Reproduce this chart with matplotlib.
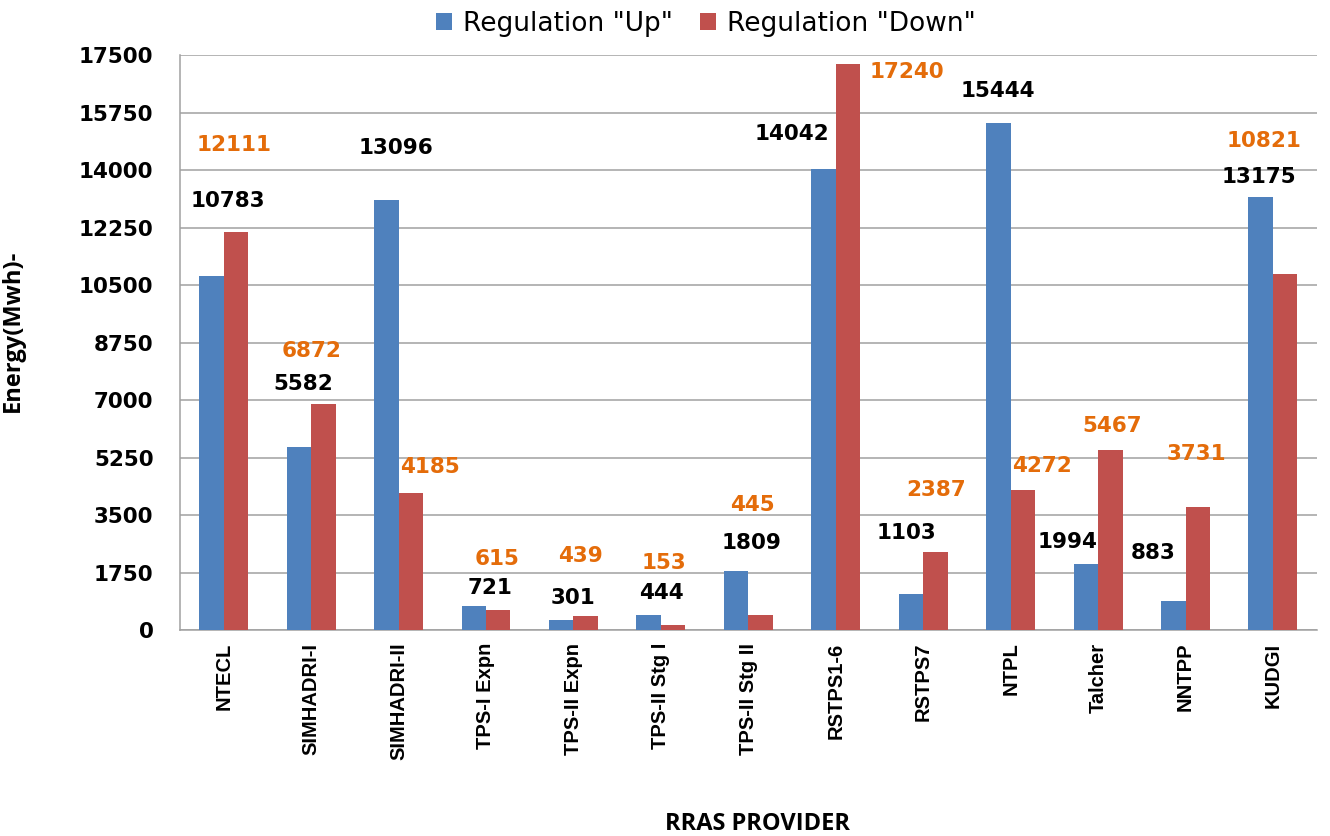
import numpy as np
import matplotlib
matplotlib.use("Agg")
import matplotlib.pyplot as plt

# RRAS providers and regulated energy (MWh)
providers = ["NTECL", "SIMHADRI-I", "SIMHADRI-II", "TPS-I Expn", "TPS-II Expn",
             "TPS-II Stg I", "TPS-II Stg II", "RSTPS1-6", "RSTPS7", "NTPL",
             "Talcher", "NNTPP", "KUDGI"]
reg_up = [10783, 5582, 13096, 721, 301, 444, 1809, 14042, 1103, 15444, 1994, 883, 13175]
reg_down = [12111, 6872, 4185, 615, 439, 153, 445, 17240, 2387, 4272, 5467, 3731, 10821]
yticks = [0, 1750, 3500, 5250, 7000, 8750, 10500, 12250, 14000, 15750, 17500]

# where the data labels sit (shift from group centre, height in MWh)
up_lab_dx = [0.05, -0.09, -0.03, 0.05, 0.0, 0.0, 0.04, -0.50, -0.19, -0.15, -0.35, -0.37, -0.16]
up_lab_y = [13050, 7500, 14665, 1280, 976, 1128, 2652, 15090, 2957, 16400, 2683, 2348, 13780]
down_lab_dx = [0.12, 0.01, 0.36, 0.13, 0.08, 0.04, 0.05, 0.81, 0.15, 0.36, 0.16, 0.12, -0.10]
down_lab_y = [14756, 8506, 4970, 2165, 2256, 2043, 3811, 16982, 4268, 5000, 6220, 5366, 14878]

blue = "#4F81BD"
red = "#C0504D"
orange = "#E46C0A"
grey = "#A0A0A0"

fig = plt.figure(figsize=(13.3, 8.36), dpi=100)
ax = fig.add_axes([0.1353, 0.2464, 0.8547, 0.6878])

x = np.arange(len(providers))
w = 0.28
ax.bar(x - w / 2, reg_up, w, color=blue, label='Regulation "Up"', zorder=3)
ax.bar(x + w / 2, reg_down, w, color=red, label='Regulation "Down"', zorder=3)

for i in range(len(providers)):
    ax.text(x[i] + up_lab_dx[i], up_lab_y[i], str(reg_up[i]), ha="center", va="center",
            fontsize=15.5, fontweight="bold", color="black", family="DejaVu Sans")
    ax.text(x[i] + down_lab_dx[i], down_lab_y[i], str(reg_down[i]), ha="center", va="center",
            fontsize=15.5, fontweight="bold", color=orange, family="DejaVu Sans")

ax.set_xlim(-0.5, len(providers) - 0.5)
ax.set_ylim(0, 17500)
ax.set_yticks(yticks)
ax.set_yticklabels([str(t) for t in yticks], fontsize=15.5, fontweight="bold", family="DejaVu Sans")
ax.set_xticks(x)
ax.set_xticklabels(providers, rotation=90, fontsize=14.5, fontweight="bold",
                   family=["Liberation Sans Narrow", "Liberation Sans"])
ax.tick_params(axis="y", length=0, pad=19)
ax.tick_params(axis="x", length=0, pad=9)

ax.grid(axis="y", color=grey, linewidth=1.1, zorder=0)
ax.spines["top"].set_visible(False)
ax.spines["right"].set_visible(False)
ax.spines["left"].set_color(grey)
ax.spines["bottom"].set_color(grey)
ax.spines["left"].set_linewidth(1.1)
ax.spines["bottom"].set_linewidth(1.1)

ax.set_ylabel("Energy(Mwh)-", fontsize=17, fontweight="bold", family="Open Sans")
ax.yaxis.set_label_coords(-0.136, 0.52)
ax.set_xlabel("RRAS PROVIDER", fontsize=17, fontweight="bold", family="Open Sans")
ax.xaxis.set_label_coords(0.508, -0.337)
ax.xaxis.label.set_va("center")

fig.legend(loc="center", bbox_to_anchor=(706 / 1330, 1 - 24 / 836), ncol=2, frameon=False,
           prop={"family": "DejaVu Sans", "size": 19}, handlelength=0.6, handleheight=0.6,
           handletextpad=0.45, columnspacing=1.0)

fig.savefig("out.png", dpi=100)
